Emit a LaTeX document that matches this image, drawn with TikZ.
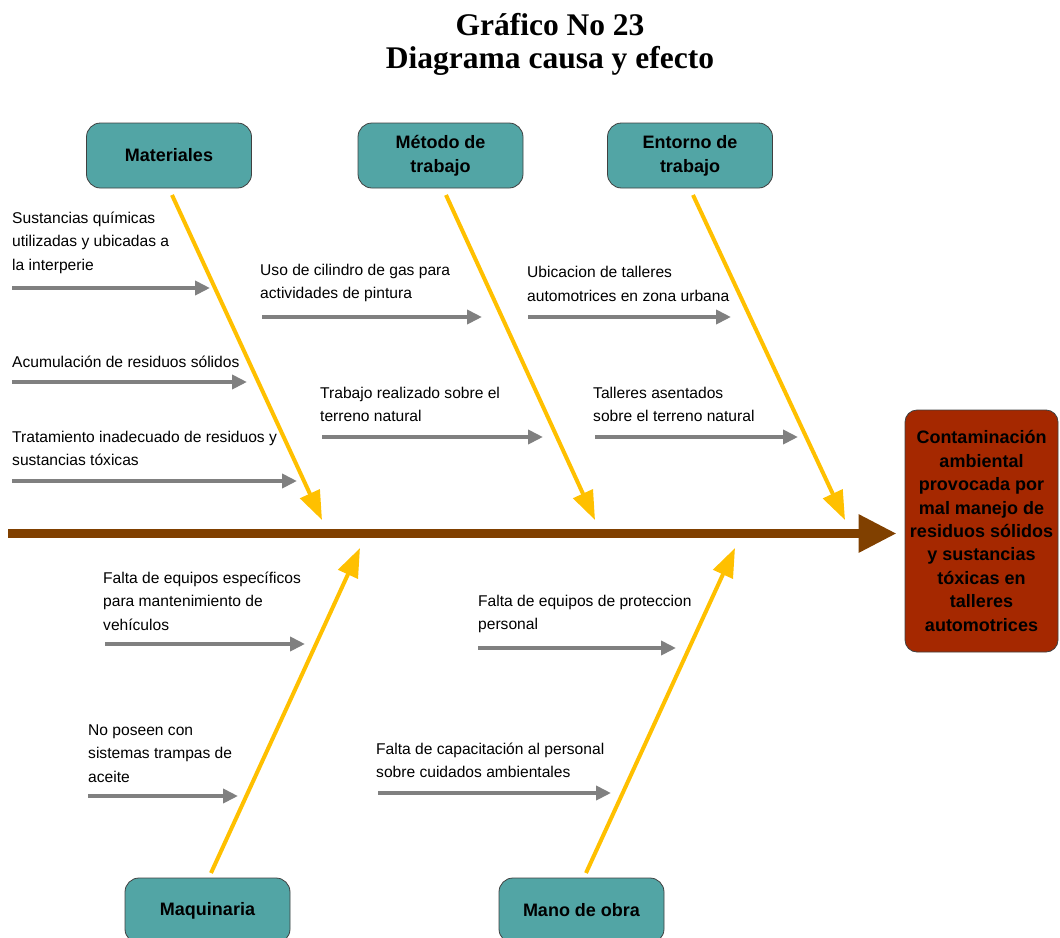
\documentclass[tikz,border=0pt]{standalone}
\usepackage{fontspec}
\setmainfont{Liberation Sans}
\newfontfamily\titlefont{Liberation Serif}
\usetikzlibrary{arrows.meta}
\definecolor{tealbox}{RGB}{82,165,165}
\definecolor{boneyellow}{RGB}{255,192,0}
\definecolor{subgray}{RGB}{128,128,128}
\definecolor{spinebrown}{RGB}{128,64,0}
\definecolor{effectred}{RGB}{165,40,0}
\begin{document}
\begin{tikzpicture}[x=1pt,y=-1pt,
  causebox/.style={draw=black!75, line width=0.8pt, fill=tealbox, rounded corners=14pt,
    minimum width=165pt, minimum height=65pt, inner sep=0pt, align=center,
    font=\fontsize{18}{24}\selectfont\bfseries},
  causetext/.style={anchor=base west, inner sep=0pt, align=left,
    font=\fontsize{15.6}{23.5}\selectfont},
  bone/.style={draw=boneyellow, line width=4pt, -{Triangle[length=29pt,width=21pt]}},
  subarrow/.style={draw=subgray, line width=4pt, -{Triangle[length=15pt,width=14pt]}},
]
\useasboundingbox (0,0) rectangle (1060,937);
\clip (0,0) rectangle (1060,937);

% title
\node[font=\titlefont\fontsize{31.5}{33}\selectfont\bfseries, align=center, inner sep=0pt, anchor=base]
  (title) at (550,68) {Gráfico No 23\\Diagrama causa y efecto};

% cause boxes
\node[causebox] (mat) at (169,155.5) {Materiales};
\node[causebox] (met) at (440.5,155.5) {Método de\\trabajo};
\node[causebox] (ent) at (690,155.5) {Entorno de\\trabajo};
\node[causebox] (maq) at (207.5,910.5) {Maquinaria};
\node[causebox] (mano) at (581.5,910.5) {Mano de obra};

% effect box
\node[draw=black!75, line width=0.8pt, fill=effectred, rounded corners=12pt,
  minimum width=153pt, minimum height=242pt, inner sep=0pt, align=center,
  font=\fontsize{18}{23.4}\selectfont\bfseries] (effect) at (981.5,531)
  {Contaminación\\ambiental\\provocada por\\mal manejo de\\residuos sólidos\\y sustancias\\tóxicas en\\talleres\\automotrices};

% spine
\coordinate (spineS) at (8,533.5);
\draw[draw=spinebrown, line width=9pt, -{Triangle[length=38pt,width=36pt]}, shorten >=8pt]
  (spineS) -- (spineS -| effect.west);

% bones
\coordinate (matS) at (172,195);  \coordinate (matT) at (322,520);
\coordinate (metS) at (446,195);  \coordinate (metT) at (595,520);
\coordinate (entS) at (693,195);  \coordinate (entT) at (845,520);
\coordinate (maqS) at (211,873);  \coordinate (maqT) at (360,548);
\coordinate (manoS) at (586,873); \coordinate (manoT) at (735,548);
\draw[bone] (matS) -- (matT);
\draw[bone] (metS) -- (metT);
\draw[bone] (entS) -- (entT);
\draw[bone] (maqS) -- (maqT);
\draw[bone] (manoS) -- (manoT);

% sub-causes (node placed at baseline of last line)
\node[causetext] (t1) at (12,270) {Sustancias químicas\\utilizadas y ubicadas a\\la interperie};
\coordinate (a1s) at (12,288); \coordinate (a1e) at (210,288);
\draw[subarrow] (a1s) -- (a1e);

\node[causetext] (t2) at (12,367) {Acumulación de residuos sólidos};
\coordinate (a2s) at (12,382); \coordinate (a2e) at (247,382);
\draw[subarrow] (a2s) -- (a2e);

\node[causetext] (t3) at (12,465.5) {Tratamiento inadecuado de residuos y\\sustancias tóxicas};
\coordinate (a3s) at (12,481); \coordinate (a3e) at (297,481);
\draw[subarrow] (a3s) -- (a3e);

\node[causetext] (t4) at (260,298.5) {Uso de cilindro de gas para\\actividades de pintura};
\coordinate (a4s) at (262,317); \coordinate (a4e) at (482,317);
\draw[subarrow] (a4s) -- (a4e);

\node[causetext] (t5) at (320,421.5) {Trabajo realizado sobre el\\terreno natural};
\coordinate (a5s) at (322,437); \coordinate (a5e) at (543,437);
\draw[subarrow] (a5s) -- (a5e);

\node[causetext] (t6) at (527,301) {Ubicacion de talleres\\automotrices en zona urbana};
\coordinate (a6s) at (528,317); \coordinate (a6e) at (731,317);
\draw[subarrow] (a6s) -- (a6e);

\node[causetext] (t7) at (593,421.5) {Talleres asentados\\sobre el terreno natural};
\coordinate (a7s) at (595,437); \coordinate (a7e) at (798,437);
\draw[subarrow] (a7s) -- (a7e);

\node[causetext] (t8) at (103,630) {Falta de equipos específicos\\para mantenimiento de\\vehículos};
\coordinate (a8s) at (105,644); \coordinate (a8e) at (305,644);
\draw[subarrow] (a8s) -- (a8e);

\node[causetext] (t9) at (88,782) {No poseen con\\sistemas trampas de\\aceite};
\coordinate (a9s) at (88,796); \coordinate (a9e) at (238,796);
\draw[subarrow] (a9s) -- (a9e);

\node[causetext] (t10) at (478,629.5) {Falta de equipos de proteccion\\personal};
\coordinate (a10s) at (478,648); \coordinate (a10e) at (676,648);
\draw[subarrow] (a10s) -- (a10e);

\node[causetext] (t11) at (376,777.5) {Falta de capacitación al personal\\sobre cuidados ambientales};
\coordinate (a11s) at (378,793); \coordinate (a11e) at (611,793);
\draw[subarrow] (a11s) -- (a11e);
\end{tikzpicture}
\end{document}
